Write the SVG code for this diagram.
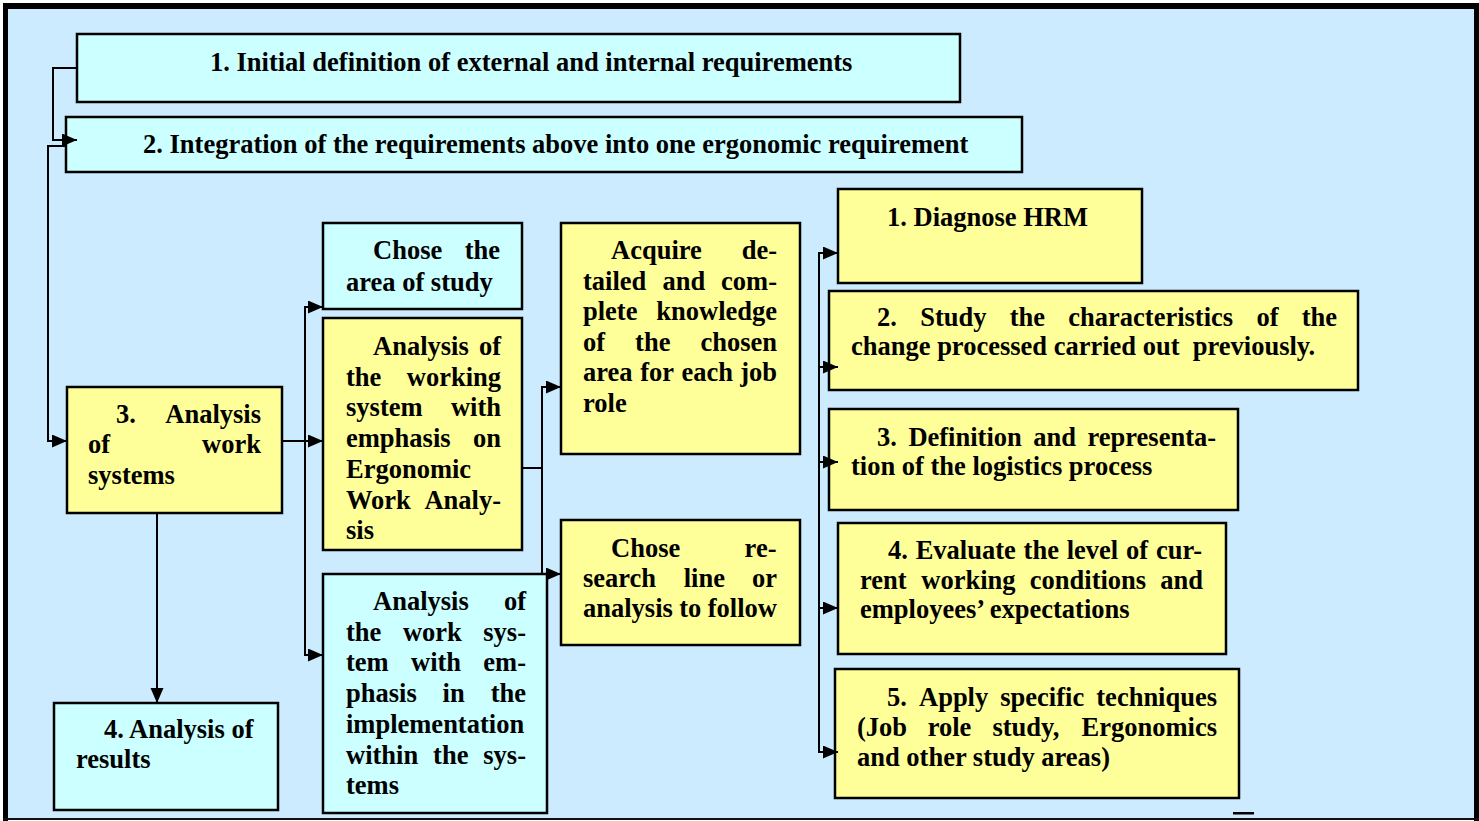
<svg xmlns="http://www.w3.org/2000/svg" width="1479" height="821" viewBox="0 0 1479 821">
  <style>
    .cy { fill: #CCFFFF; stroke: #000; stroke-width: 2.5; }
    .ye { fill: #FFFF99; stroke: #000; stroke-width: 2.5; }
    text { font-family: "Liberation Serif", "Times New Roman", serif; font-weight: bold; font-size: 26.5px; fill: #000; }
    .ln { fill: none; stroke: #000; stroke-width: 2; }
  </style>
  <defs>
    <marker id="arr" markerUnits="userSpaceOnUse" markerWidth="16" markerHeight="14" refX="15" refY="6.5" orient="auto">
      <path d="M0,0 L15,6.5 L0,13 z" fill="#000"/>
    </marker>
  </defs>

  <!-- frame -->
  <rect x="0" y="0" width="1479" height="821" fill="#FFFFFF"/>
  <rect x="6" y="6" width="1470" height="813" fill="#CCEBFF"/>
  <rect x="3" y="3" width="1476" height="6" fill="#000"/>
  <rect x="3" y="3" width="5" height="818" fill="#000"/>
  <rect x="1474" y="3" width="5" height="818" fill="#000"/>
  <rect x="3" y="818" width="1476" height="2" fill="#111"/>
  <rect x="1233" y="812" width="21" height="2.5" fill="#000"/>

  <g id="req1">
    <rect class="cy" x="77" y="34" width="883" height="68"/>
    <text x="210" y="71">1. Initial definition of external and internal requirements</text>
  </g>
  <g id="req2">
    <rect class="cy" x="66" y="117" width="956" height="55"/>
    <text x="143" y="153">2. Integration of the requirements above into one ergonomic requirement</text>
  </g>

  <g id="analysis-work-systems">
    <rect class="ye" x="67" y="387" width="215" height="126"/>
    <text y="423"><tspan x="116">3.</tspan> <tspan x="165.3">Analysis</tspan></text>
    <text y="453"><tspan x="88">of</tspan> <tspan x="202.1">work</tspan></text>
    <text x="88" y="484">systems</text>
  </g>

  <g id="analysis-results">
    <rect class="cy" x="54" y="703" width="224" height="107"/>
    <text x="104" y="738">4. Analysis of</text>
    <text x="76" y="768">results</text>
  </g>

  <g id="chose-area">
    <rect class="cy" x="323" y="223" width="199" height="86"/>
    <text y="259"><tspan x="373">Chose</tspan> <tspan x="464.7">the</tspan></text>
    <text x="346" y="291">area of study</text>
  </g>

  <g id="ergonomic-work-analysis">
    <rect class="ye" x="323" y="318" width="199" height="232"/>
    <text y="355"><tspan x="373">Analysis</tspan> <tspan x="478.9">of</tspan></text>
    <text y="385.7"><tspan x="346">the</tspan> <tspan x="406.8">working</tspan></text>
    <text y="416.4"><tspan x="346">system</tspan> <tspan x="450.9">with</tspan></text>
    <text y="447.1"><tspan x="346">emphasis</tspan> <tspan x="473">on</tspan></text>
    <text x="346" y="477.8">Ergonomic</text>
    <text y="508.5"><tspan x="346">Work</tspan> <tspan x="424.4">Analy-</tspan></text>
    <text x="346" y="539.2">sis</text>
  </g>

  <g id="implementation-analysis">
    <rect class="cy" x="323" y="574" width="224" height="239"/>
    <text y="610"><tspan x="373">Analysis</tspan> <tspan x="503.9">of</tspan></text>
    <text y="640.7"><tspan x="346">the</tspan> <tspan x="402.9">work</tspan> <tspan x="483.3">sys-</tspan></text>
    <text y="671.4"><tspan x="346">tem</tspan> <tspan x="411">with</tspan> <tspan x="483.3">em-</tspan></text>
    <text y="702.1"><tspan x="346">phasis</tspan> <tspan x="442.6">in</tspan> <tspan x="490.7">the</tspan></text>
    <text x="346" y="732.8">implementation</text>
    <text y="763.5"><tspan x="346">within</tspan> <tspan x="433.1">the</tspan> <tspan x="483.3">sys-</tspan></text>
    <text x="346" y="794.2">tems</text>
  </g>

  <g id="acquire-knowledge">
    <rect class="ye" x="561" y="223" width="239" height="231"/>
    <text y="259.3"><tspan x="611">Acquire</tspan> <tspan x="741.7">de-</tspan></text>
    <text y="289.8"><tspan x="583">tailed</tspan> <tspan x="662.4">and</tspan> <tspan x="721.1">com-</tspan></text>
    <text y="320.3"><tspan x="583">plete</tspan> <tspan x="656.3">knowledge</tspan></text>
    <text y="350.8"><tspan x="583">of</tspan> <tspan x="635.1">the</tspan> <tspan x="700.4">chosen</tspan></text>
    <text y="381.3"><tspan x="583">area</tspan> <tspan x="640.3">for</tspan> <tspan x="681.4">each</tspan> <tspan x="740.2">job</tspan></text>
    <text x="583" y="411.8">role</text>
  </g>

  <g id="research-line">
    <rect class="ye" x="561" y="520" width="239" height="125"/>
    <text y="556.7"><tspan x="611">Chose</tspan> <tspan x="744.6">re-</tspan></text>
    <text y="587"><tspan x="583">search</tspan> <tspan x="683.7">line</tspan> <tspan x="752">or</tspan></text>
    <text y="617.3"><tspan x="583">analysis</tspan> <tspan x="679.3">to</tspan> <tspan x="707.8">follow</tspan></text>
  </g>

  <g id="step1-diagnose">
    <rect class="ye" x="838" y="189" width="304" height="94"/>
    <text x="887" y="226">1. Diagnose HRM</text>
  </g>

  <g id="step2-study">
    <rect class="ye" x="829" y="291" width="529" height="99"/>
    <text y="326"><tspan x="877">2.</tspan> <tspan x="920.2">Study</tspan> <tspan x="1009.7">the</tspan> <tspan x="1068.3">characteristics</tspan> <tspan x="1256.4">of</tspan> <tspan x="1301.7">the</tspan></text>
    <text x="851" y="355" xml:space="preserve">change processed carried out  previously.</text>
  </g>

  <g id="step3-logistics">
    <rect class="ye" x="829" y="409" width="409" height="101"/>
    <text y="446"><tspan x="877">3.</tspan> <tspan x="908.4">Definition</tspan> <tspan x="1033.3">and</tspan> <tspan x="1087.5">representa-</tspan></text>
    <text x="851" y="475">tion of the logistics process</text>
  </g>

  <g id="step4-evaluate">
    <rect class="ye" x="838" y="523" width="388" height="131"/>
    <text y="559"><tspan x="888">4.</tspan> <tspan x="915.7">Evaluate</tspan> <tspan x="1023.6">the</tspan> <tspan x="1066.7">level</tspan> <tspan x="1126">of</tspan> <tspan x="1155.9">cur-</tspan></text>
    <text y="589"><tspan x="860">rent</tspan> <tspan x="921.3">working</tspan> <tspan x="1029.8">conditions</tspan> <tspan x="1160.3">and</tspan></text>
    <text x="860" y="618">employees’ expectations</text>
  </g>

  <g id="step5-techniques">
    <rect class="ye" x="835" y="669" width="404" height="129"/>
    <text y="706"><tspan x="887">5.</tspan> <tspan x="919">Apply</tspan> <tspan x="1000.3">specific</tspan> <tspan x="1096.3">techniques</tspan></text>
    <text y="736"><tspan x="857">(Job</tspan> <tspan x="927.7">role</tspan> <tspan x="992.4">study,</tspan> <tspan x="1081.6">Ergonomics</tspan></text>
    <text x="857" y="766">and other study areas)</text>
  </g>

  <g id="connectors">
    <!-- requirement 1 feeds requirement 2 -->
    <polyline class="ln" points="77,68 53,68 53,140 77,140" marker-end="url(#arr)"/>
    <!-- requirement 2 feeds the work-system analysis -->
    <polyline class="ln" points="66,146 48,146 48,441 67,441" marker-end="url(#arr)"/>
    <!-- analysis of work systems to results -->
    <line class="ln" x1="157" y1="513" x2="157" y2="703" marker-end="url(#arr)"/>
    <!-- analysis of work systems fan-out -->
    <line class="ln" x1="282" y1="441" x2="323" y2="441" marker-end="url(#arr)"/>
    <line class="ln" x1="305" y1="307" x2="305" y2="655"/>
    <line class="ln" x1="304" y1="307" x2="323" y2="307" marker-end="url(#arr)"/>
    <line class="ln" x1="304" y1="655" x2="323" y2="655" marker-end="url(#arr)"/>
    <!-- ergonomic work analysis fan-out -->
    <line class="ln" x1="522" y1="468" x2="542" y2="468"/>
    <line class="ln" x1="542" y1="387" x2="542" y2="574"/>
    <line class="ln" x1="541" y1="387" x2="561" y2="387" marker-end="url(#arr)"/>
    <line class="ln" x1="541" y1="574" x2="561" y2="574" marker-end="url(#arr)"/>
    <!-- step bus -->
    <line class="ln" x1="819" y1="253" x2="819" y2="752"/>
    <line class="ln" x1="818" y1="253" x2="838" y2="253" marker-end="url(#arr)"/>
    <line class="ln" x1="818" y1="367" x2="838" y2="367" marker-end="url(#arr)"/>
    <line class="ln" x1="818" y1="462" x2="838" y2="462" marker-end="url(#arr)"/>
    <line class="ln" x1="818" y1="608" x2="838" y2="608" marker-end="url(#arr)"/>
    <line class="ln" x1="818" y1="752" x2="838" y2="752" marker-end="url(#arr)"/>
  </g>
</svg>
